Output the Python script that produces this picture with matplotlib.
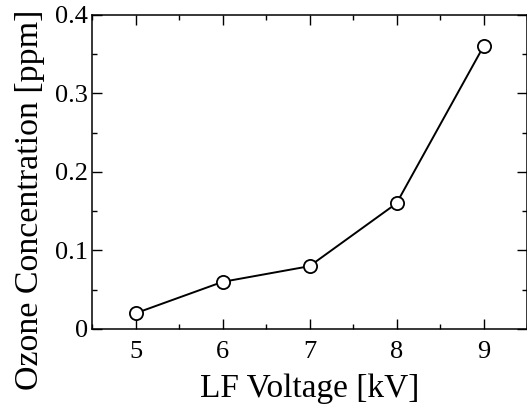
import matplotlib
matplotlib.use("Agg")
import matplotlib.pyplot as plt
from matplotlib.ticker import MultipleLocator

# data
voltage = [5, 6, 7, 8, 9]
ozone = [0.02, 0.06, 0.08, 0.16, 0.36]

plt.rcParams['font.family'] = ['Liberation Serif', 'DejaVu Serif']

fig = plt.figure(figsize=(5.27, 4.05), dpi=100)
ax = fig.add_axes([0.1746, 0.1877, 0.8254, 0.7753])

ax.plot(voltage, ozone, color='black', linewidth=1.4, marker='o',
        markersize=9.5, markerfacecolor='white', markeredgecolor='black',
        markeredgewidth=1.3, clip_on=False, zorder=3)

ax.set_xlim(4.5, 9.5)
ax.set_ylim(0, 0.4)
ax.xaxis.set_major_locator(MultipleLocator(1))
ax.xaxis.set_minor_locator(MultipleLocator(0.5))
ax.yaxis.set_minor_locator(MultipleLocator(0.05))
ax.set_yticks([0, 0.1, 0.2, 0.3, 0.4])
ax.set_yticklabels(['0', '0.1', '0.2', '0.3', '0.4'])

ax.tick_params(which='both', direction='in', top=True, right=True,
               width=1.0, labelsize=19, colors='black')
ax.tick_params(which='major', length=7)
ax.tick_params(which='minor', length=3.6)
ax.tick_params(axis='x', which='major', pad=9)
ax.tick_params(axis='y', which='major', pad=3)
for s in ax.spines.values():
    s.set_linewidth(1.1)

ax.set_xlabel('LF Voltage [kV]', fontsize=24, labelpad=7)
ax.set_ylabel('Ozone Concentration [ppm]', fontsize=24.5)
ax.yaxis.set_label_coords(-0.108, 0.41)

fig.savefig('out.png', dpi=100)
